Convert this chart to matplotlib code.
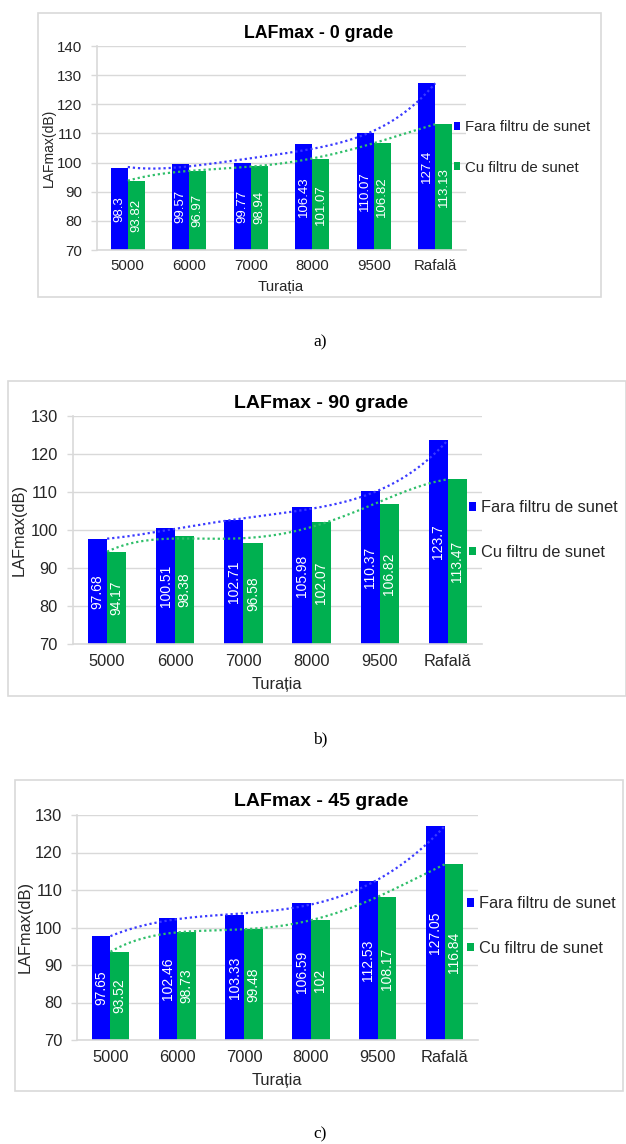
import numpy as np
import matplotlib
matplotlib.use('Agg')
import matplotlib.pyplot as plt
from matplotlib.patches import Rectangle, Patch

# ---------------- data ----------------
categories = ['5000', '6000', '7000', '8000', '9500', 'Rafală']
series_names = ['Fara filtru de sunet', 'Cu filtru de sunet']
a_fara = [98.3, 99.57, 99.77, 106.43, 110.07, 127.4]
a_cu = [93.82, 96.97, 98.94, 101.07, 106.82, 113.13]
b_fara = [97.68, 100.51, 102.71, 105.98, 110.37, 123.7]
b_cu = [94.17, 98.38, 96.58, 102.07, 106.82, 113.47]
c_fara = [97.65, 102.46, 103.33, 106.59, 112.53, 127.05]
c_cu = [93.52, 98.73, 99.48, 102, 108.17, 116.84]
titles = ['LAFmax - 0 grade', 'LAFmax - 90 grade', 'LAFmax - 45 grade']
panel_labels = ['a)', 'b)', 'c)']
x_label = 'Turația'
y_label = 'LAFmax(dB)'
y_limits = [(70, 140), (70, 130), (70, 130)]

# ---------------- style / layout ----------------
W, H = 626, 1144
BLUE = '#0000FF'
GREEN = '#00B050'
GRID = '#d9d9d9'
TXT = '#262626'
SANS = 'Liberation Sans'
SERIF = 'Liberation Serif'

plt.rcParams['font.family'] = [SANS, 'DejaVu Sans']

fig = plt.figure(figsize=(W / 100, H / 100), dpi=100)
fig.patch.set_facecolor('white')


def fx(x):
    return x / W


def fy(y):
    return 1 - y / H


layouts = [
    dict(box=(38, 601, 13, 297), plot=(97, 466, 46, 250), fs=10.8, yfs=10,
         lfs=9.5, title=(319, 34), tfs=12.8, xl=(281, 287), yl=(49, 148),
         leg=(454, 147.5), legsp=1.75, plab=(320, 342), xpad=6.5, ypad=6.5),
    dict(box=(8, 626, 381, 696), plot=(73, 482, 416, 644), fs=11.8, yfs=11.8,
         lfs=10, title=(321, 403), tfs=14, xl=(277, 685), yl=(19, 530),
         leg=(469, 530), legsp=1.8, plab=(320, 739), xpad=7, ypad=7),
    dict(box=(15, 623, 780, 1091), plot=(77, 478, 815, 1040), fs=11.8, yfs=11.8,
         lfs=10, title=(321, 802), tfs=14, xl=(277, 1080), yl=(25, 927),
         leg=(467, 926), legsp=1.8, plab=(320, 1134), xpad=7, ypad=6.5),
]

data_sets = [(a_fara, a_cu), (b_fara, b_cu), (c_fara, c_cu)]

x = np.arange(len(categories))
bw = 0.28
TREND_ORDER = 4

for i, (lay, (fara, cu)) in enumerate(zip(layouts, data_sets)):
    # outer chart frame
    bl, br, bt, bb = lay['box']
    fig.add_artist(Rectangle((fx(bl), fy(bb)), (br - bl) / W, (bb - bt) / H,
                             transform=fig.transFigure, fill=False,
                             edgecolor=GRID, lw=1.2))
    pl, pr, pt, pb = lay['plot']
    ax = fig.add_axes([fx(pl), fy(pb), (pr - pl) / W, (pb - pt) / H])
    ax.set_facecolor('none')

    b1 = ax.bar(x - bw / 2, fara, bw, color=BLUE, zorder=2)
    b2 = ax.bar(x + bw / 2, cu, bw, color=GREEN, zorder=2)
    for bars, vals in ((b1, fara), (b2, cu)):
        ax.bar_label(bars, labels=[f'{v:g}' for v in vals], label_type='center',
                     rotation=90, color='white', fontsize=lay['lfs'])

    # polynomial trendlines, dotted
    xs = np.linspace(0, len(categories) - 1, 200)
    for vals, col in ((fara, '#3a3aff'), (cu, '#2fbf6a')):
        coef = np.polyfit(x, vals, TREND_ORDER)
        ax.plot(xs, np.polyval(coef, xs), color=col, lw=1.6,
                linestyle=(0, (1, 1.3)), zorder=3)

    ax.set_xlim(-0.5, len(categories) - 0.5)
    ax.set_ylim(*y_limits[i])
    ax.set_yticks(np.arange(y_limits[i][0], y_limits[i][1] + 1, 10))
    ax.set_xticks(x)
    ax.set_xticklabels(categories)
    ax.yaxis.grid(True, color=GRID, lw=1, zorder=0)
    ax.set_axisbelow(True)
    for s in ('top', 'right'):
        ax.spines[s].set_visible(False)
    ax.spines['left'].set_color(GRID)
    ax.spines['bottom'].set_color(GRID)
    ax.spines['left'].set_linewidth(1.2)
    ax.spines['bottom'].set_linewidth(1.2)
    ax.tick_params(axis='x', length=0, pad=lay['xpad'], labelsize=lay['fs'],
                   labelcolor=TXT)
    ax.tick_params(axis='y', length=4, width=1, color=GRID, pad=lay['ypad'],
                   labelsize=lay['fs'], labelcolor=TXT)

    # title and axis labels
    fig.text(fx(lay['title'][0]), fy(lay['title'][1]), titles[i], ha='center',
             va='center', fontsize=lay['tfs'], fontweight='bold', color='black')
    fig.text(fx(lay['xl'][0]), fy(lay['xl'][1]), x_label, ha='center',
             va='center', fontsize=lay['fs'], color=TXT)
    fig.text(fx(lay['yl'][0]), fy(lay['yl'][1]), y_label, ha='center',
             va='center', rotation=90, fontsize=lay['yfs'], color=TXT)

    # legend
    handles = [Patch(facecolor=BLUE), Patch(facecolor=GREEN)]
    ax.legend(handles, series_names, loc='center left',
              bbox_to_anchor=(fx(lay['leg'][0]), fy(lay['leg'][1])),
              bbox_transform=fig.transFigure, frameon=False, borderpad=0,
              borderaxespad=0, handlelength=0.42, handleheight=0.42,
              handletextpad=0.3, labelspacing=lay['legsp'],
              fontsize=lay['fs'], labelcolor=TXT)

    # panel caption
    fig.text(fx(lay['plab'][0]), fy(lay['plab'][1]), panel_labels[i],
             ha='center', va='center', fontsize=12.5, family=SERIF,
             color='black')

fig.savefig('out.png', dpi=100, facecolor='white')
